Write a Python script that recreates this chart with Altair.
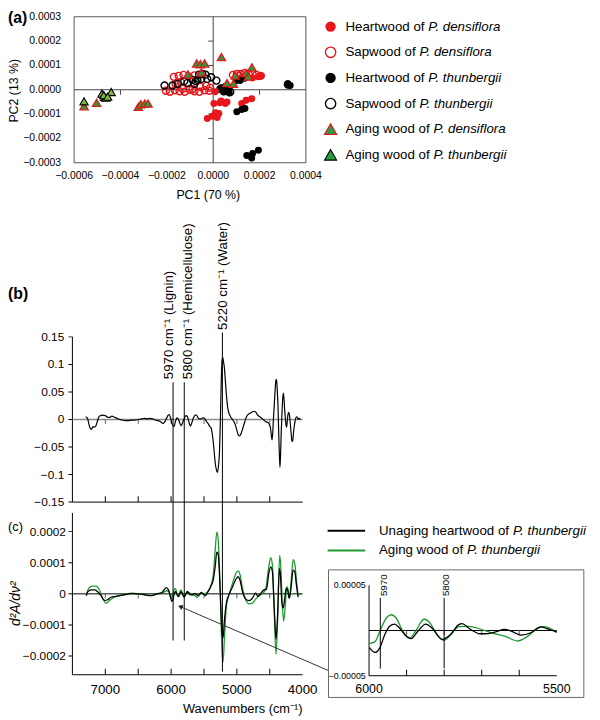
import altair as alt
import pandas as pd

# ======================= DATA =======================
# (a) PCA scores (PC1, PC2) per wood group
HEART_DENS_PC1 = [-0.0000255, -0.0000043, 0.0000170, 0.0000098, 0.0000243, 0.0000030, 0.0000285, 0.0000523, 0.0000340,
                  0.0000596, 0.000123, 0.000142, 0.000166, 0.000170, 0.000194, 0.000208, 0.000115, 0.0000085]
HEART_DENS_PC2 = [-0.000118, -0.000109, -0.000114, -0.0000945, -0.0000973, -0.0000568, -0.0000539, -0.0000568, -0.0000458,
                  -0.0000499, -0.0000568, -0.0000434, -0.0000365, 0.0000486, 0.0000539, 0.000058, 0.0000466, -0.0000081]
SAP_DENS_PC1 = [-0.000204, -0.000187, -0.000166, -0.000145, -0.000123, -0.000102, -0.000081, -0.000060, -0.000038, -0.000017,
                -0.000132, -0.000089,
                -0.000170, -0.000149, -0.000128, -0.000106, -0.000081, -0.000140, -0.000162, -0.000055, -0.000030, -0.000013,
                0.000085, 0.000102, 0.000119, 0.000136, 0.000153, 0.000170, 0.000187, 0.000204, 0.000145, 0.000115]
SAP_DENS_PC2 = [-0.000004, -0.000008, -0.000002, -0.000006, -0.000008, 0.0, -0.000006, -0.000008, -0.000002, -0.000004,
                0.000004, 0.000002,
                0.000053, 0.000057, 0.000061, 0.000055, 0.000059, 0.000032, 0.000024, 0.000012, 0.000016, 0.000008,
                0.000061, 0.000065, 0.000065, 0.000069, 0.000065, 0.000065, 0.000061, 0.000057, 0.000055, 0.000057]
HEART_THUN_PC1 = [0.0000353, 0.0000523, 0.0000694, 0.0000694, 0.0000455, 0.0000991, 0.000116, 0.000135, 0.000102,
                  0.000123, 0.000137, 0.000145, 0.000166, 0.000170, 0.000195, 0.000322, 0.000332]
HEART_THUN_PC2 = [0.0000081, 0.0000134, 0.0000041, -0.0000134, -0.0000093, 0.0000377, 0.0000377, 0.0000474, -0.0000904,
                  -0.0000811, -0.000077, -0.00027, -0.00028, -0.000262, -0.000249, 0.0000243, 0.0000174]
SAP_THUN_PC1 = [-0.000210, -0.000175, -0.000153, -0.000125, -0.0000894, -0.0000753, -0.0000609, -0.0000468, -0.0000328,
                -0.0000681, -0.0000511, -0.0000255, -0.0000085, 0.0000140, 0.0000311, 0.0000596, 0.0000736, 0.0000455,
                0.000322, -0.000111, -0.0000809]
SAP_THUN_PC2 = [0.0000174, 0.0000174, 0.0000243, 0.0000353, 0.0000405, 0.0000353, 0.000062, 0.0000649, 0.000062,
                0.0000405, 0.0000446, 0.0000446, 0.0000515, 0.0000377, 0.0000041, 0.0000134, -0.0000093, -0.0000053,
                0.0000215, 0.0000284, 0.0000243]
AGE_DENS_PC1 = [-0.000557, -0.000503, -0.000323, -0.000312, -0.000295, -0.000281, -0.0000711, -0.0000553, -0.0000370,
                0.0000353, -0.000109, -0.0000511, 0.0000596, 0.0000872, 0.0000949, 0.000142, 0.000151, 0.000167]
AGE_DENS_PC2 = [-0.0000677, -0.0000539, -0.0000701, -0.0000596, -0.0000568, -0.0000568, 0.000108, 0.000105, 0.000108,
                0.000134, 0.0000628, 0.0000709, 0.0000272, 0.0000243, 0.000058, 0.0000677, 0.0000539, 0.000092]
AGE_THUN_PC1 = [-0.000557, -0.000480, -0.000468, -0.000463, -0.000440, -0.000472, -0.000455]
AGE_THUN_PC2 = [-0.0000474, -0.0000162, -0.0000296, -0.0000324, -0.0000093, -0.0000223, -0.0000284]

A_LEGEND = ["Heartwood of ", "Sapwood of ", "Heartwood of ", "Sapwood of ", "Aging wood of ", "Aging wood of "]
A_SPECIES = ["P. densiflora", "P. densiflora", "P. thunbergii", "P. thunbergii", "P. densiflora", "P. thunbergii"]

# (b) loading spectrum: (wavenumber, value)
B_SPECTRUM = [
    (7300, 0.005), (7270, 0.002), (7250, -0.008), (7230, -0.016), (7210, -0.018), (7190, -0.013), (7170, -0.014),
    (7150, -0.013), (7125, -0.005), (7100, 0.004), (7075, 0.007), (7050, 0.008), (7000, 0.007), (6960, 0.004),
    (6930, 0.004), (6900, 0.006), (6860, 0.004), (6820, 0.002), (6780, 0.000), (6740, -0.001), (6700, -0.002),
    (6650, -0.002), (6600, -0.001), (6550, -0.001), (6500, 0.000), (6450, 0.001), (6400, 0.002), (6360, 0.001),
    (6320, 0.002), (6280, 0.001), (6240, -0.001), (6200, -0.002), (6160, -0.004), (6130, -0.007), (6100, -0.005),
    (6070, 0.002), (6045, 0.008), (6030, 0.009), (6010, 0.004), (5985, -0.008), (5955, -0.013), (5935, -0.004),
    (5910, 0.003), (5890, 0.001), (5870, -0.006), (5845, -0.011), (5825, -0.006), (5800, 0.002), (5775, 0.007),
    (5755, 0.006), (5730, -0.004), (5705, -0.012), (5685, -0.006), (5660, 0.003), (5635, 0.008), (5615, 0.008),
    (5590, 0.003), (5565, 0.001), (5545, 0.001), (5520, 0.003), (5500, 0.003), (5470, -0.002), (5440, -0.007),
    (5410, -0.013), (5390, -0.016), (5370, -0.030), (5350, -0.052), (5330, -0.078), (5310, -0.092), (5295, -0.096),
    (5280, -0.085), (5265, -0.060), (5255, -0.020), (5245, 0.030), (5235, 0.080), (5225, 0.108), (5215, 0.113),
    (5205, 0.106), (5190, 0.094), (5175, 0.070), (5160, 0.046), (5140, 0.022), (5120, 0.011), (5100, 0.006),
    (5080, 0.002), (5060, -0.001), (5040, -0.005), (5015, -0.013), (4995, -0.022), (4975, -0.029), (4960, -0.030),
    (4945, -0.028), (4925, -0.022), (4900, -0.012), (4875, -0.002), (4850, 0.006), (4820, 0.010), (4790, 0.012),
    (4760, 0.014), (4730, 0.015), (4710, 0.013), (4690, 0.009), (4665, 0.006), (4650, 0.005), (4620, 0.002),
    (4590, -0.001), (4560, -0.004), (4535, -0.005), (4510, -0.008), (4490, -0.015), (4475, -0.030), (4465, -0.037),
    (4455, -0.025), (4445, 0.000), (4430, 0.030), (4415, 0.060), (4405, 0.073), (4395, 0.070), (4385, 0.050),
    (4375, 0.025), (4365, -0.020), (4355, -0.060), (4345, -0.087), (4335, -0.060), (4325, -0.020), (4315, 0.010),
    (4305, 0.035), (4295, 0.048), (4285, 0.040), (4275, 0.020), (4265, 0.005), (4255, -0.008), (4245, -0.014),
    (4235, -0.005), (4225, 0.008), (4212, 0.013), (4200, 0.008), (4190, -0.005), (4175, -0.025), (4165, -0.038),
    (4152, -0.040), (4140, -0.025), (4125, -0.010), (4110, 0.000), (4095, 0.005), (4080, 0.004), (4065, 0.000),
    (4050, 0.002), (4035, 0.000)]

# (c) second-derivative spectra: (wavenumber, d2A/dv2)
C_BLACK = [
    (7290, -0.000006), (7265, 0.000007), (7215, 0.000013), (7165, 0.000013), (7115, 0.000007), (7065, -0.000006),
    (7015, -0.000021), (6965, -0.000019), (6915, -0.000011), (6840, -0.000008), (6740, -0.000004), (6590, 0.000001),
    (6490, 0.0), (6390, -0.000003), (6290, -0.000006), (6215, 0.0), (6140, 0.000004), (6075, 0.000020),
    (6040, 0.000013), (5999, -0.0000189), (5984, -0.0000243), (5971, -0.0000189), (5958, -0.0000044),
    (5945, 0.0000046), (5932, 0.0000071), (5919, 0.0000028), (5901, -0.0000062), (5888, -0.0000091),
    (5870, -0.0000008), (5849, 0.0000071), (5831, 0.0000021), (5805, -0.0000098), (5783, -0.0000044),
    (5761, 0.0000065), (5752, 0.0000076), (5735, 0.0000028), (5704, -0.0000036), (5691, -0.0000036),
    (5665, -0.0000018), (5639, 0.0000011), (5621, -0.0000007), (5595, -0.0000051), (5569, -0.0000025),
    (5543, 0.000004), (5526, 0.0000021), (5500, -0.0000018), (5480, -0.000006), (5440, 0.000007), (5400, 0.000023),
    (5360, 0.000044), (5330, 0.000087), (5305, 0.000134), (5285, 0.000129), (5265, 0.000066), (5245, -0.000040),
    (5225, -0.000130), (5210, -0.000141), (5190, -0.000088), (5160, -0.000030), (5115, 0.0), (5065, 0.000023),
    (5015, 0.000047), (4980, 0.000055), (4950, 0.000042), (4915, 0.000007), (4865, -0.000017), (4815, -0.000022),
    (4765, -0.000014), (4715, 0.000002), (4680, -0.000008), (4640, 0.0), (4590, 0.000013), (4550, 0.000015),
    (4515, 0.000066), (4485, 0.000087), (4460, 0.000071), (4435, -0.000030), (4405, -0.000146), (4380, -0.000061),
    (4355, 0.000081), (4340, 0.000066), (4315, -0.000030), (4295, -0.000045), (4275, -0.000019), (4250, 0.000018),
    (4230, 0.000013), (4205, -0.000014), (4175, 0.000023), (4145, 0.000076), (4120, 0.000071), (4095, 0.000029),
    (4070, -0.000011)]
C_GREEN = [
    (7290, -0.000003), (7250, 0.000018), (7200, 0.000025), (7140, 0.000025), (7090, 0.000013), (7040, -0.000014),
    (6990, -0.000030), (6940, -0.000022), (6865, -0.000011), (6740, -0.000004), (6590, 0.000002), (6490, 0.0),
    (6340, -0.000006), (6215, 0.0), (6140, 0.000002), (6065, 0.000010), (6030, 0.000007), (5999, -0.0000145),
    (5984, -0.0000123), (5971, -0.0000007), (5954, 0.0000138), (5941, 0.0000174), (5928, 0.0000138),
    (5910, -0.0000007), (5893, -0.0000087), (5875, 0.0), (5853, 0.0000127), (5840, 0.0000094), (5818, -0.0000051),
    (5801, -0.0000109), (5783, -0.0000051), (5761, 0.0000043), (5735, 0.0000046), (5700, 0.0000011),
    (5674, -0.0000025), (5639, -0.0000062), (5604, -0.0000116), (5578, -0.0000065), (5552, 0.0000021),
    (5534, 0.0000043), (5500, -0.0000018), (5490, 0.0), (5440, 0.000007), (5400, 0.000023), (5360, 0.000060),
    (5330, 0.000140), (5305, 0.000198), (5285, 0.000177), (5265, 0.000087), (5245, -0.000051), (5225, -0.000188),
    (5210, -0.000220), (5190, -0.000146), (5160, -0.000040), (5115, 0.0), (5065, 0.000034), (5015, 0.000066),
    (4980, 0.000074), (4950, 0.000060), (4915, 0.000018), (4865, -0.000019), (4815, -0.000032), (4765, -0.000030),
    (4715, -0.000017), (4665, -0.000006), (4615, 0.0), (4565, 0.000013), (4515, 0.000087), (4485, 0.000116),
    (4460, 0.000092), (4435, -0.000040), (4405, -0.000194), (4380, -0.000083), (4350, 0.000124), (4335, 0.000097),
    (4310, -0.000030), (4290, -0.000088), (4265, -0.000040), (4240, 0.000023), (4220, 0.000013), (4200, -0.000014),
    (4170, 0.000055), (4145, 0.000110), (4120, 0.000097), (4090, 0.000034), (4065, -0.000003), (4015, 0.0)]

C_LEGEND = ["Unaging heartwood of ", "Aging wood of "]
C_SPECIES = ["P. thunbergii", "P. thunbergii"]

ANNOT_WN = [5970, 5800, 5220]
ANNOT_TEXT = ["5970 cm\u207b\u00b9 (Lignin)", "5800 cm\u207b\u00b9 (Hemicellulose)", "5220 cm\u207b\u00b9 (Water)"]
INSET_WN = [5970, 5800]
INSET_TEXT = ["5970", "5800"]

# axis ticks
A_XTICKS = [-0.0006, -0.0004, -0.0002, 0.0, 0.0002, 0.0004]
A_YTICKS = [-0.0003, -0.0002, -0.0001, 0.0, 0.0001, 0.0002, 0.0003]
B_YTICKS = [-0.15, -0.1, -0.05, 0, 0.05, 0.1, 0.15]
C_YTICKS = [-0.0002, -0.0001, 0, 0.0001, 0.0002]
C_XLABELS = [7000, 6000, 5000, 4000]
BC_MINOR = [7000, 6500, 6000, 5500, 5000, 4500]
I_XLABELS = [6000, 5500]
I_MINOR = [5900, 5800, 5700, 5600]
I_YTICKS = [-0.00005, 0.00005]

# ======================= LAYOUT / STYLE =======================
W, H = 592, 712
FONT = "Liberation Sans"
RED = "#e8151b"
GREEN_D = "#2a9d3a"
GREEN_T = "#7cba3c"
GREEN_LEG = "#22a043"
GREEN_LINE = "#1f9a2e"

A_XDOM, A_YDOM = [-0.0006, 0.0004], [-0.0003, 0.0003]
BC_XDOM = [7500, 4000]
B_YDOM = [-0.15, 0.15]
C_YDOM = [-0.00026, 0.00026]
I_XDOM, I_YDOM = [6000, 5500], [-0.00005, 0.00005]

ANNOT_TOP = [0.00068, 0.00068, 0.00084]
ANNOT_BOTTOM = [-0.00015, -0.00015, -0.00025]
ANNOT_LABEL_Y = [0.00069, 0.00069, 0.000848]
ANNOT_DY = [-3.7, 4, 1]
INSET_TOP, INSET_BOTTOM, INSET_LABEL_Y = 0.000036, -0.000042, 0.000038
INSET_DY = [3.6, 1.7]
INSET_BOX = dict(x=6108, x2=5428, y=0.000067, y2=-0.000074)
ARROW_TIP = (5860, -0.000041)
ARROW_TAIL = (3604, -0.000247)

ARIAL = {' ': 278, '.': 278, 'P': 667, 'H': 722, 'S': 667, 'A': 667, 'U': 722,
         'a': 556, 'b': 556, 'd': 556, 'e': 556, 'f': 278, 'g': 556, 'h': 556, 'i': 222,
         'n': 556, 'o': 556, 'p': 556, 'r': 333, 's': 500, 't': 278, 'u': 556, 'w': 722,
         'l': 222, 'c': 500, 'k': 500, 'm': 833}


def text_width(s, size):
    return sum(ARIAL.get(ch, 556) for ch in s) * size / 1000.0


def lin(domain, rng):
    return alt.Scale(domain=domain, range=rng, nice=False, zero=False)


XA, YA = lin(A_XDOM, [67, 302]), lin(A_YDOM, [152, 4])
XB, YB = lin(BC_XDOM, [65.3, 298.7]), lin(B_YDOM, [496, 328.5])
XC, YC = lin(BC_XDOM, [65.3, 298.7]), lin(C_YDOM, [671, 507])
XI, YI = lin(I_XDOM, [366, 556.3]), lin(I_YDOM, [672, 580.3])
YLA = lin([0, 5], [14, 144])
YLC = lin([0, 1], [525, 545])


def enc(X, Y, xf="x", yf="y"):
    return dict(x=alt.X(f"{xf}:Q", scale=X, axis=None), y=alt.Y(f"{yf}:Q", scale=Y, axis=None))


def hrule(y, x1, x2, X, Y, **mk):
    return alt.Chart(pd.DataFrame({"x": [x1], "x2": [x2], "y": [y]})).mark_rule(**mk).encode(
        x2=alt.X2("x2"), **enc(X, Y))


def vrule(x, y1, y2, X, Y, **mk):
    return alt.Chart(pd.DataFrame({"x": [x], "y": [y1], "y2": [y2]})).mark_rule(**mk).encode(
        y2=alt.Y2("y2"), **enc(X, Y))


def ylabels(values, xval, X, Y, fmt, size, dx):
    df = pd.DataFrame({"v": values, "x": xval})
    return alt.Chart(df).mark_text(align="right", baseline="middle", font=FONT, fontSize=size, color="black",
                                   dx=dx).encode(text=alt.Text("v:Q", format=fmt), **enc(X, Y, "x", "v"))


def xlabels(values, yval, X, Y, fmt, size, dy):
    df = pd.DataFrame({"v": values, "y": yval})
    return alt.Chart(df).mark_text(align="center", baseline="middle", font=FONT, fontSize=size, color="black",
                                   dy=dy).encode(text=alt.Text("v:Q", format=fmt), **enc(X, Y, "v", "y"))


def vticks(values, yval, X, Y, size, yoff, color="black"):
    return alt.Chart(pd.DataFrame({"x": values, "y": yval})).mark_tick(
        orient="vertical", size=size, thickness=1, color=color, opacity=1, yOffset=yoff).encode(**enc(X, Y))


def hticks(values, xval, X, Y, size, xoff, color="black"):
    return alt.Chart(pd.DataFrame({"y": values, "x": xval})).mark_tick(
        orient="horizontal", size=size, thickness=1, color=color, opacity=1, xOffset=xoff).encode(**enc(X, Y))


def free_text(txt, x, y, size, weight="normal", style="normal", angle=0, align="left"):
    return alt.Chart(alt.Data(values=[{}])).mark_text(
        text=txt, align=align, baseline="middle", font=FONT, fontSize=size, fontWeight=weight, fontStyle=style,
        angle=angle, color="black").encode(x=alt.value(x), y=alt.value(y))


# ======================= PANEL (a) =======================
frameA = alt.Chart(pd.DataFrame({"x": [A_XDOM[0]], "x2": [A_XDOM[1]], "y": [A_YDOM[0]], "y2": [A_YDOM[1]]})).mark_rect(
    fill="transparent", stroke="#555555", strokeWidth=1).encode(x2=alt.X2("x2"), y2=alt.Y2("y2"), **enc(XA, YA))
crossH = hrule(0.0, A_XDOM[0], A_XDOM[1], XA, YA, color="#444444", strokeWidth=1)
crossV = vrule(0.0, A_YDOM[0], A_YDOM[1], XA, YA, color="#444444", strokeWidth=1)
ticksAx = vticks([v for v in A_XTICKS[1:-1] if v != 0], 0.0, XA, YA, 5, 2.5, "#444444")
ticksAy = hticks([v for v in A_YTICKS[1:-1] if v != 0], 0.0, XA, YA, 5, -2.5, "#444444")
labAx = xlabels(A_XTICKS, A_YDOM[0], XA, YA, ".4f", 10.5, 13)
labAy = ylabels(A_YTICKS, A_XDOM[0], XA, YA, ".4f", 10.5, -13.3)

GROUP_STYLE = {
    "hd": dict(shape="circle", filled=True, fill=RED, strokeWidth=0),
    "sd": dict(shape="circle", filled=False, stroke=RED, strokeWidth=1.4),
    "ht": dict(shape="circle", filled=True, fill="black", strokeWidth=0),
    "st": dict(shape="circle", filled=False, stroke="black", strokeWidth=1.4),
    "ad": dict(shape="triangle-up", filled=True, fill=GREEN_D, stroke=RED, strokeWidth=1.3),
    "at": dict(shape="triangle-up", filled=True, fill=GREEN_T, stroke="black", strokeWidth=1.1),
}
GROUP_DATA = {"hd": (HEART_DENS_PC1, HEART_DENS_PC2), "sd": (SAP_DENS_PC1, SAP_DENS_PC2),
              "ht": (HEART_THUN_PC1, HEART_THUN_PC2), "st": (SAP_THUN_PC1, SAP_THUN_PC2),
              "ad": (AGE_DENS_PC1, AGE_DENS_PC2), "at": (AGE_THUN_PC1, AGE_THUN_PC2)}
LEGEND_ORDER = ["hd", "sd", "ht", "st", "ad", "at"]
DRAW_ORDER = ["sd", "st", "hd", "ht", "ad", "at"]

scatter_layers = []
for g in DRAW_ORDER:
    pc1, pc2 = GROUP_DATA[g]
    size = 50 if GROUP_STYLE[g]["shape"] == "circle" else 70
    scatter_layers.append(
        alt.Chart(pd.DataFrame({"pc1": pc1, "pc2": pc2})).mark_point(opacity=1, size=size, **GROUP_STYLE[g]).encode(
            **enc(XA, YA, "pc1", "pc2")))

panelA = alt.layer(frameA, crossH, crossV, ticksAx, ticksAy, labAx, labAy, *scatter_layers)

legA_layers = []
for i, g in enumerate(LEGEND_ORDER):
    st = dict(GROUP_STYLE[g])
    if g in ("ad", "at"):
        st["fill"] = GREEN_LEG
    size = 110 if st["shape"] == "circle" else 150
    d = pd.DataFrame({"row": [i], "prefix": [A_LEGEND[i]], "species": [A_SPECIES[i]]})
    legA_layers.append(alt.Chart(d).mark_point(opacity=1, size=size, **st).encode(
        x=alt.value(327), y=alt.Y("row:Q", scale=YLA, axis=None)))
    legA_layers.append(alt.Chart(d).mark_text(align="left", baseline="middle", font=FONT, fontSize=13.5,
                                              color="black").encode(
        x=alt.value(342), y=alt.Y("row:Q", scale=YLA, axis=None), text="prefix:N"))
    legA_layers.append(alt.Chart(d).mark_text(align="left", baseline="middle", font=FONT, fontSize=13.5,
                                              fontStyle="italic", color="black",
                                              dx=text_width(A_LEGEND[i], 13.5)).encode(
        x=alt.value(342), y=alt.Y("row:Q", scale=YLA, axis=None), text="species:N"))
legendA = alt.layer(*legA_layers)

# ======================= PANEL (b) =======================
dfB = pd.DataFrame(B_SPECTRUM, columns=["wn", "val"])
lineB = alt.Chart(dfB).mark_line(color="black", strokeWidth=1.2, interpolate="monotone").encode(
    **enc(XB, YB, "wn", "val"))
panelB = alt.layer(
    vrule(BC_XDOM[0], B_YDOM[0], B_YDOM[1], XB, YB, color="black", strokeWidth=1),
    hrule(B_YDOM[0], BC_XDOM[0], BC_XDOM[1], XB, YB, color="black", strokeWidth=1),
    hrule(0.0, BC_XDOM[0], BC_XDOM[1], XB, YB, color="#8a8a8a", strokeWidth=1.6),
    vticks(BC_MINOR, 0.0, XB, YB, 5, 2, "#666666"),
    vticks(BC_MINOR, B_YDOM[0], XB, YB, 6, -3),
    hticks(B_YTICKS, BC_XDOM[0], XB, YB, 4, -2),
    ylabels(B_YTICKS, BC_XDOM[0], XB, YB, "~g", 12, -8.3),
    lineB)

# ======================= PANEL (c) =======================
dfCb = pd.DataFrame(C_BLACK, columns=["wn", "val"])
dfCg = pd.DataFrame(C_GREEN, columns=["wn", "val"])
lineCg = alt.Chart(dfCg).mark_line(color=GREEN_LINE, strokeWidth=1.3, interpolate="monotone").encode(
    **enc(XC, YC, "wn", "val"))
lineCb = alt.Chart(dfCb).mark_line(color="black", strokeWidth=1.3, interpolate="monotone").encode(
    **enc(XC, YC, "wn", "val"))

annot = alt.Chart(pd.DataFrame({"wn": ANNOT_WN, "top": ANNOT_TOP, "bottom": ANNOT_BOTTOM})).mark_rule(
    color="black", strokeWidth=1).encode(y2=alt.Y2("bottom"), **enc(XC, YC, "wn", "top"))
annot_text = []
for i, wn in enumerate(ANNOT_WN):
    annot_text.append(alt.Chart(pd.DataFrame({"wn": [wn], "y": [ANNOT_LABEL_Y[i]], "t": [ANNOT_TEXT[i]]})).mark_text(
        angle=270, align="left", baseline="middle", font=FONT, fontSize=13.5, color="black", dy=ANNOT_DY[i]).encode(
        text="t:N", **enc(XC, YC, "wn", "y")))

arrow_line = alt.Chart(pd.DataFrame({"x": [ARROW_TIP[0]], "x2": [ARROW_TAIL[0]], "y": [ARROW_TIP[1]],
                                     "y2": [ARROW_TAIL[1]]})).mark_rule(color="#333333", strokeWidth=1).encode(
    x2=alt.X2("x2"), y2=alt.Y2("y2"), **enc(XC, YC))
arrow_head = alt.Chart(pd.DataFrame({"x": [ARROW_TIP[0]], "y": [ARROW_TIP[1]]})).mark_point(
    shape="triangle-up", filled=True, fill="#222222", size=30, angle=293, opacity=1).encode(**enc(XC, YC))

panelC = alt.layer(
    vrule(BC_XDOM[0], C_YDOM[0], C_YDOM[1], XC, YC, color="black", strokeWidth=1),
    hrule(C_YDOM[0], BC_XDOM[0], BC_XDOM[1], XC, YC, color="black", strokeWidth=1),
    hrule(0.0, BC_XDOM[0], BC_XDOM[1], XC, YC, color="black", strokeWidth=1),
    vticks(BC_MINOR, 0.0, XC, YC, 5, 2, "#555555"),
    vticks(BC_MINOR, C_YDOM[0], XC, YC, 6, -3),
    hticks(C_YTICKS, BC_XDOM[0], XC, YC, 4, -2),
    ylabels(C_YTICKS, BC_XDOM[0], XC, YC, "~g", 12, -6.6),
    xlabels(C_XLABELS, C_YDOM[0], XC, YC, "d", 13.5, 16),
    lineCg, lineCb, annot, *annot_text, arrow_line, arrow_head)

# legend (c)
legC_layers = []
for i, col in enumerate(["black", GREEN_LINE]):
    d = pd.DataFrame({"row": [i], "prefix": [C_LEGEND[i]], "species": [C_SPECIES[i]]})
    legC_layers.append(alt.Chart(d).mark_rule(color=col, strokeWidth=2).encode(
        x=alt.value(324), x2=alt.value(362), y=alt.Y("row:Q", scale=YLC, axis=None)))
    legC_layers.append(alt.Chart(d).mark_text(align="left", baseline="middle", font=FONT, fontSize=13.5,
                                              color="black").encode(
        x=alt.value(376), y=alt.Y("row:Q", scale=YLC, axis=None), text="prefix:N"))
    legC_layers.append(alt.Chart(d).mark_text(align="left", baseline="middle", font=FONT, fontSize=13.5,
                                              fontStyle="italic", color="black",
                                              dx=text_width(C_LEGEND[i], 13.5)).encode(
        x=alt.value(376), y=alt.Y("row:Q", scale=YLC, axis=None), text="species:N"))
legendC = alt.layer(*legC_layers)

# ======================= INSET =======================
boxI = alt.Chart(pd.DataFrame({k: [v] for k, v in INSET_BOX.items()})).mark_rect(
    fill="white", stroke="#666666", strokeWidth=1).encode(x2=alt.X2("x2"), y2=alt.Y2("y2"), **enc(XI, YI))
in_range = (alt.datum.wn <= I_XDOM[0]) & (alt.datum.wn >= I_XDOM[1])
lineIg = alt.Chart(dfCg).transform_filter(in_range).mark_line(
    color=GREEN_LINE, strokeWidth=1.3, interpolate="monotone").encode(**enc(XI, YI, "wn", "val"))
lineIb = alt.Chart(dfCb).transform_filter(in_range).mark_line(
    color="black", strokeWidth=1.3, interpolate="monotone").encode(**enc(XI, YI, "wn", "val"))
annotI = alt.Chart(pd.DataFrame({"wn": INSET_WN, "top": INSET_TOP, "bottom": INSET_BOTTOM})).mark_rule(
    color="black", strokeWidth=1).encode(y2=alt.Y2("bottom"), **enc(XI, YI, "wn", "top"))
annotI_text = []
for i, wn in enumerate(INSET_WN):
    annotI_text.append(alt.Chart(pd.DataFrame({"wn": [wn], "y": [INSET_LABEL_Y], "t": [INSET_TEXT[i]]})).mark_text(
        angle=270, align="left", baseline="middle", font=FONT, fontSize=10, color="black", dy=INSET_DY[i]).encode(
        text="t:N", **enc(XI, YI, "wn", "y")))
inset = alt.layer(
    boxI,
    vrule(I_XDOM[0], I_YDOM[0], I_YDOM[1], XI, YI, color="black", strokeWidth=1),
    hrule(I_YDOM[0], I_XDOM[0], I_XDOM[1], XI, YI, color="black", strokeWidth=1),
    hrule(0.0, I_XDOM[0], I_XDOM[1], XI, YI, color="black", strokeWidth=1),
    vticks(I_MINOR, 0.0, XI, YI, 5, 2, "#555555"),
    vticks(I_MINOR, I_YDOM[0], XI, YI, 6, -3),
    ylabels(I_YTICKS, I_XDOM[0], XI, YI, ".5f", 9, -3.3),
    xlabels(I_XLABELS, I_YDOM[0], XI, YI, "d", 12.5, 13),
    lineIg, lineIb, annotI, *annotI_text)

# ======================= TITLES / PANEL LABELS =======================
labels = alt.layer(
    free_text("(a)", 0, 5, 16, weight="bold"),
    free_text("(b)", 0, 285, 16, weight="bold"),
    free_text("(c)", 0, 521, 13),
    free_text("PC1 (70 %)", 203, 185, 12.5, align="center"),
    free_text("PC2 (13 %)", 6, 79, 12.5, angle=270, align="center"),
    free_text("Wavenumbers (cm\u207b\u00b9)", 238, 706, 13, align="center"),
    free_text("d\u00b2A/d\u03bd\u00b2", 8, 599, 14, style="italic", angle=270, align="center"))

chart = alt.layer(panelA, legendA, panelB, panelC, inset, legendC, labels).resolve_scale(
    x="independent", y="independent").properties(
    width=W, height=H, padding=0, autosize=alt.AutoSizeParams(type="none")).configure_view(strokeWidth=0)

chart.save("out.html", embed_options={"renderer": "svg", "actions": False})
